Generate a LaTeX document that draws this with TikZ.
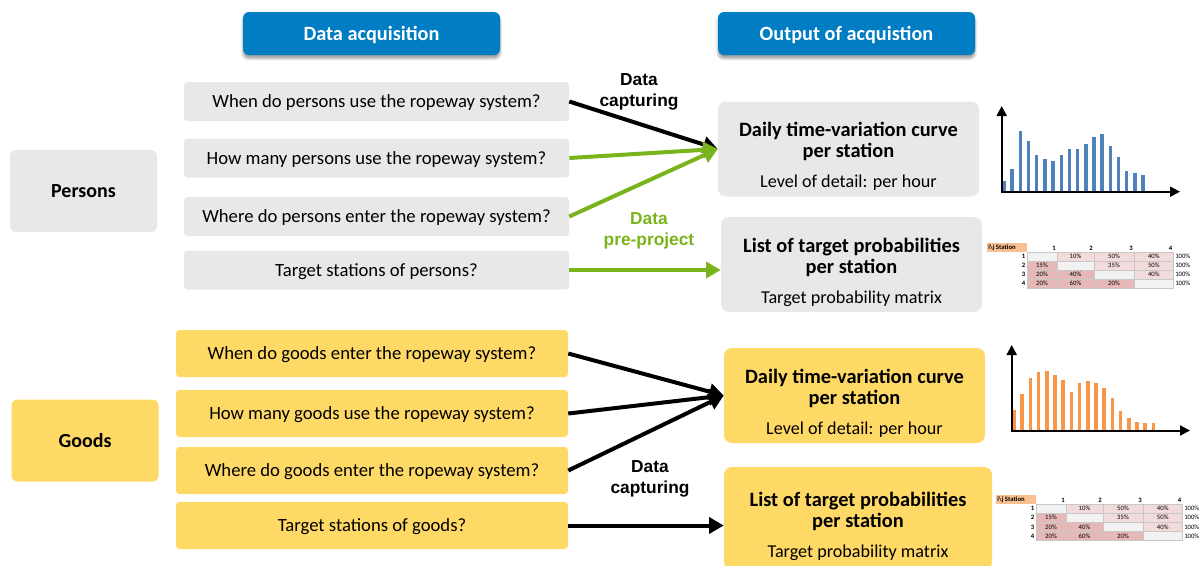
\documentclass[tikz,border=0pt]{standalone}
\usepackage{fontspec}
\setmainfont{Carlito}
\newfontfamily\labelfont{Liberation Sans}
\usetikzlibrary{arrows.meta,shadows.blur}

\definecolor{hdrblue}{RGB}{0,125,195}
\definecolor{boxgrey}{RGB}{232,232,232}
\definecolor{boxyellow}{RGB}{255,217,102}
\definecolor{flowgreen}{RGB}{122,180,28}
\definecolor{barblue}{RGB}{79,129,189}
\definecolor{barorange}{RGB}{247,150,70}
\definecolor{cellhi}{RGB}{230,184,183}
\definecolor{celllo}{RGB}{242,220,219}
\definecolor{celldiag}{RGB}{242,242,242}
\definecolor{cellhead}{RGB}{250,192,144}
\definecolor{gridgrey}{RGB}{200,200,200}

% regular-weight font for the detail line of a result box
\newcommand\subfontsel{\mdseries\fontsize{13.6}{15.75}\selectfont}

\tikzset{
  header/.style={fill=hdrblue, rounded corners=4.5pt, text=white,
    font=\fontsize{15.2}{18}\selectfont\bfseries, text depth=0pt,
    minimum width=192.75pt, minimum height=32.25pt, inner sep=0pt,
    blur shadow={shadow xshift=0pt, shadow yshift=-2.5pt,
      shadow blur radius=2pt, shadow opacity=40}},
  group/.style={rounded corners=4.5pt, font=\fontsize{15}{18}\selectfont\bfseries,
    text depth=0pt, minimum width=110.25pt, minimum height=61.5pt, inner sep=0pt},
  question/.style={rounded corners=2.5pt, font=\fontsize{14}{16}\selectfont,
    text depth=0pt, inner sep=0pt},
  pq/.style={question, fill=boxgrey, minimum width=288.75pt, minimum height=29.25pt},
  gq/.style={question, fill=boxyellow, minimum width=294pt, minimum height=35.25pt},
  resultbox/.style={rounded corners=6pt, inner sep=0pt,
    minimum width=195.75pt, minimum height=71.25pt},
  resulttext/.style={align=center, inner sep=0pt,
    font=\fontsize{15.3}{15.75}\selectfont\bfseries},
  flow/.style={line width=3pt, -{Triangle[length=11pt,width=12pt]}},
  flowlabel/.style={align=center, font=\labelfont\fontsize{13}{15.75}\selectfont\bfseries},
  axis/.style={line width=1.5pt, {Triangle[length=7.5pt,width=7.5pt]}-{Triangle[length=7.5pt,width=7.5pt]}},
  mcell/.style={draw=gridgrey, line width=0.3pt, inner sep=0pt,
    font=\fontsize{5}{6}\selectfont, minimum height=6.86pt},
  mlabel/.style={inner sep=0pt, font=\fontsize{5}{6}\selectfont\bfseries},
  mplain/.style={inner sep=0pt, font=\fontsize{5}{6}\selectfont},
}

% target probability matrix: #1 name prefix, (#2,#3) top-left corner of the grid
\newcommand\probmatrix[3]{%
  \begin{scope}[shift={(#2,#3)}]
    \fill[cellhead] (-40,-8.7) rectangle (0,0);
    \node[mlabel, anchor=west] (#1-head) at (-39,-4.35) {i\textbackslash j Station};
    \foreach \c/\xr in {1/30,2/67,3/107,4/146.5}
      \node[mlabel, anchor=south east] (#1-col\c) at (\xr-1,-1) {\c};
    \foreach \r/\c/\xa/\xb/\v/\col in {
        1/1/0/30/{}/celldiag, 1/2/30/67/10\%/celllo, 1/3/67/107/50\%/celllo, 1/4/107/146.5/40\%/celllo,
        2/1/0/30/15\%/cellhi, 2/2/30/67/{}/celldiag, 2/3/67/107/35\%/celllo, 2/4/107/146.5/50\%/celllo,
        3/1/0/30/20\%/cellhi, 3/2/30/67/40\%/cellhi, 3/3/67/107/{}/celldiag, 3/4/107/146.5/40\%/celllo,
        4/1/0/30/20\%/cellhi, 4/2/30/67/60\%/cellhi, 4/3/67/107/20\%/cellhi, 4/4/107/146.5/{}/celldiag}
      \node[mcell, fill=\col, minimum width={(\xb-\xa)*0.75pt}]
        (#1-\r-\c) at ({(\xa+\xb)/2},{(\r-0.5)*9.15}) {\v};
    \foreach \r in {1,...,4} {
      \node[mlabel, anchor=east] (#1-row\r) at (-1.5,{(\r-0.5)*9.15}) {\r};
      \node[mplain, anchor=west] (#1-sum\r) at (148,{(\r-0.5)*9.15}) {100\%};
    }
  \end{scope}%
}

\begin{document}
\begin{tikzpicture}[x=0.75pt, y=-0.75pt]
  \useasboundingbox (0,0) rectangle (1200,565);

  % column headers
  \node[header] (hacq) at (371.5,33.5) {Data acquisition};
  \node[header] (hout) at (846.5,33.5) {Output of acquistion};

  % persons
  \node[group, fill=boxgrey] (persons) at (83.5,191) {Persons};
  \node[pq] (pq1) at (376.5,101.5) {When do persons use the ropeway system?};
  \node[pq] (pq2) at (376.5,158) {How many persons use the ropeway system?};
  \node[pq] (pq3) at (376.5,216.5) {Where do persons enter the ropeway system?};
  \node[pq] (pq4) at (376.5,270) {Target stations of persons?};

  \node[resultbox, fill=boxgrey] (po1) at (848.5,149) {};
  \node[resulttext] (po1-text) at ([yshift=-5.6pt]po1.center)
    {Daily time-variation curve\\per station\\[6.75pt]{\subfontsel Level of detail: per hour}};
  \node[resultbox, fill=boxgrey] (po2) at (851.5,264.5) {};
  \node[resulttext] (po2-text) at ([yshift=-5.6pt]po2.center)
    {List of target probabilities\\per station\\[6.75pt]{\subfontsel Target probability matrix}};

  % goods
  \node[group, fill=boxyellow] (goods) at (85,440.5) {Goods};
  \node[gq] (gq1) at (372,353.5) {When do goods enter the ropeway system?};
  \node[gq] (gq2) at (372,413.5) {How many goods use the ropeway system?};
  \node[gq] (gq3) at (372,470.5) {Where do goods enter the ropeway system?};
  \node[gq] (gq4) at (372,525.5) {Target stations of goods?};

  \node[resultbox, fill=boxyellow] (go1) at (854.5,395.5) {};
  \node[resulttext] (go1-text) at ([yshift=-5.6pt]go1.center)
    {Daily time-variation curve\\per station\\[6.75pt]{\subfontsel Level of detail: per hour}};
  \node[resultbox, fill=boxyellow, minimum width=201pt, minimum height=77.25pt] (go2) at (858,518.5) {};
  \node[resulttext] (go2-text) at ([yshift=-5.6pt]go2.center)
    {List of target probabilities\\per station\\[6.75pt]{\subfontsel Target probability matrix}};

  % connectors, persons
  \draw[flow, black] (pq1.east) -- (po1.west);
  \draw[flow, flowgreen] (pq2.east) -- (po1.west);
  \draw[flow, flowgreen] (pq3.east) -- (po1.west);
  \draw[flow, flowgreen] (pq4.east) -- (pq4.east -| po2.west);
  \node[flowlabel] (lcap1) at (639,92) {Data\\capturing};
  \node[flowlabel, text=flowgreen] (lpre) at (649,231) {Data\\pre-project};

  % connectors, goods
  \draw[flow, black] (gq1.east) -- (go1.west);
  \draw[flow, black] (gq2.east) -- (go1.west);
  \draw[flow, black] (gq3.east) -- (go1.west);
  \draw[flow, black] (gq4.east) -- (gq4.east -| go2.west);
  \node[flowlabel] (lcap2) at (650,479) {Data\\capturing};

  % hourly profile, persons
  \foreach \h [count=\i from 0] in {10,21.7,59.3,50,35.7,31.7,30,35.3,42,41.3,46.7,53.7,56.7,44.3,33.3,20,17.7,15.3}
    \fill[barblue] ({1004+8.18*\i-1.75},190.5) rectangle ++(3.5,-\h);
  \draw[axis] (1001.7,106) |- (1180,191.7);

  % hourly profile, goods
  \foreach \h [count=\i from 0] in {19.3,36,51.3,57.3,58.7,54.7,49.7,37.3,47,48.3,46.3,42,31.3,18.3,11.7,7.3,6.3,6.3}
    \fill[barorange] ({1014+8.2*\i-1.75},429.5) rectangle ++(3.5,-\h);
  \draw[axis] (1011.7,345) |- (1190,430.5);

  % target probability matrices
  \probmatrix{mp}{1027}{251.7}
  \probmatrix{mg}{1036}{504}
\end{tikzpicture}
\end{document}
